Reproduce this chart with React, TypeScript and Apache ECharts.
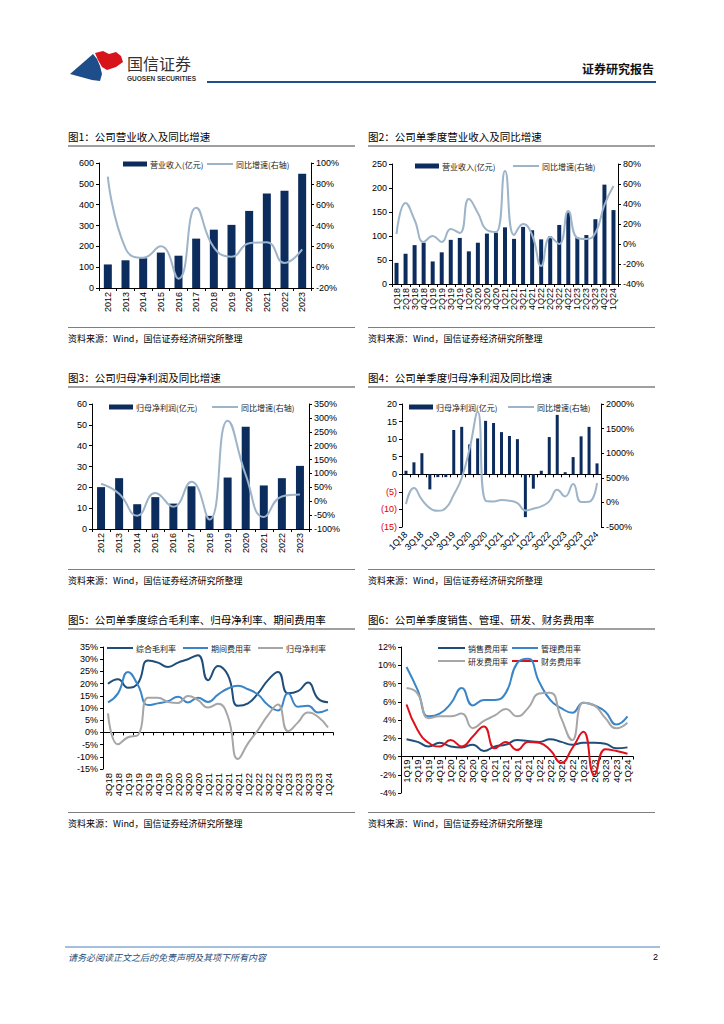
import React, { useEffect, useRef } from 'react';
import * as echarts from 'echarts';

// ---------- data ----------
const years = ['2012', '2013', '2014', '2015', '2016', '2017', '2018', '2019', '2020', '2021', '2022', '2023'];
const revenue = [113, 133, 143, 170, 155, 237, 280, 303, 370, 454, 467, 548];
const revenueYoY = [87, 18, 9, 20, -11, 57, 19, 10, 23, 24, 4, 17];

const quarters18 = ['1Q18', '2Q18', '3Q18', '4Q18', '1Q19', '2Q19', '3Q19', '4Q19', '1Q20', '2Q20', '3Q20', '4Q20', '1Q21', '2Q21', '3Q21', '4Q21', '1Q22', '2Q22', '3Q22', '4Q22', '1Q23', '2Q23', '3Q23', '4Q23', '1Q24'];
const qRevenue = [44, 63, 81, 86, 47, 66, 92, 96, 68, 86, 105, 107, 118, 94, 119, 112, 93, 99, 123, 149, 97, 102, 135, 207, 154];
const qRevenueYoY = [10, 41, 24, 2, 8, 2, 15, 11, 45, 31, 14, 12, 73, 9, 20, 9, -22, 7, 0, 33, 6, 5, 11, 39, 58];

const netProfit = [20.1, 24.4, 11.9, 15.3, 12.2, 20.5, 6.3, 24.7, 49.1, 20.9, 24.4, 30.3];
const netProfitYoY = [63, 27, -52, 30, -20, 70, -66, 290, 95, -57, 17, 24];

const qNetProfit = [1.0, 3.4, 6.0, -4.3, -0.8, -0.8, 12.6, 13.5, 8.5, 10.2, 15.2, 14.6, 12.0, 10.9, 10.0, -12.2, -4.1, 1.0, 10.6, 16.9, 0.6, 4.9, 10.8, 13.5, 3.1];
const qNetProfitYoY = [-34, 291, 54, -115, -169, -115, 156, 495, 1100, 1840, 34, 20, 47, 34, -14, -163, -129, -81, 20, 257, 122, 373, 10, 15, 393];

const quarters5 = ['3Q18', '4Q18', '1Q19', '2Q19', '3Q19', '4Q19', '1Q20', '2Q20', '3Q20', '4Q20', '1Q21', '2Q21', '3Q21', '4Q21', '1Q22', '2Q22', '3Q22', '4Q22', '1Q23', '2Q23', '3Q23', '4Q23', '1Q24'];
const grossMargin = [19.9, 21.8, 18.3, 20.2, 29.5, 28.6, 26.8, 28.6, 30.0, 31.6, 21.4, 27.2, 23.4, 10.9, 11.9, 16.0, 21.4, 24.8, 16.0, 16.9, 20.4, 13.9, 12.4];
const expenseRatio = [12.3, 16.0, 24.8, 19.3, 11.2, 11.9, 12.8, 14.6, 12.3, 14.2, 12.5, 15.5, 18.0, 19.1, 17.7, 15.5, 11.2, 9.0, 16.0, 10.5, 10.9, 8.2, 9.3];
const netMargin = [7.8, -4.9, -2.0, -1.1, 14.2, 14.2, 12.5, 12.1, 14.9, 13.2, 10.2, 11.7, 6.4, -10.9, -4.5, 1.0, 7.1, 11.4, 0.5, 4.1, 8.2, 6.4, 2.0];

const quarters6 = ['1Q19', '2Q19', '3Q19', '4Q19', '1Q20', '2Q20', '3Q20', '4Q20', '1Q21', '2Q21', '3Q21', '4Q21', '1Q22', '2Q22', '3Q22', '4Q22', '1Q23', '2Q23', '3Q23', '4Q23', '1Q24'];
const sellingRatio = [1.9, 1.6, 1.1, 1.5, 1.1, 1.0, 1.3, 0.6, 1.1, 1.3, 1.8, 1.7, 1.6, 1.9, 1.6, 1.3, 1.5, 1.5, 1.4, 0.9, 1.0];
const adminRatio = [9.8, 7.3, 4.4, 4.7, 5.8, 7.5, 5.6, 6.2, 6.2, 7.0, 10.2, 10.7, 8.2, 6.2, 5.3, 4.8, 5.9, 5.6, 4.9, 3.5, 4.4];
const rdRatio = [7.5, 6.9, 4.2, 4.4, 4.4, 4.7, 3.1, 3.9, 4.5, 5.2, 4.4, 5.3, 6.9, 7.0, 4.2, 1.8, 5.9, 5.6, 4.2, 3.1, 3.7];
const financeRatio = [5.7, 2.9, 1.5, 1.1, 1.8, 1.1, 2.2, 3.3, 0.9, 1.6, 0.7, 1.6, 1.5, 0.7, -0.7, 0.9, 2.7, -2.0, 0.8, 0.6, 0.3];

// ---------- styles ----------
const CJK = '"Noto Sans CJK SC", "Noto Sans", sans-serif';
const NUM = '"Liberation Sans", Arial, sans-serif';
const NAVY = '#0C2C5E';
const LIGHT = '#9DB4C9';
const DARKBLUE = '#1F4E79';
const MIDBLUE = '#3A85C8';
const GRAY = '#A6A6A6';
const RED = '#E0101B';

const axisLine = { show: true, onZero: false, lineStyle: { color: '#000', width: 1 } };
const axisTick = { show: true, length: 3, lineStyle: { color: '#000' } };
const lbl = (extra: any = {}) => ({ color: '#000', fontSize: 9, fontFamily: NUM, ...extra });
const pctFmt = (v: number) => `${v}%`;

function valueAxis(grid: number, min: number, max: number, interval: number, opts: any = {}) {
  return {
    type: 'value', gridIndex: grid, min, max, interval,
    axisLine, axisTick, splitLine: { show: false },
    ...opts,
    axisLabel: lbl({ margin: 5, ...(opts.axisLabel || {}) }),
  };
}

function catAxis(grid: number, data: string[], opts: any = {}) {
  return {
    type: 'category', gridIndex: grid, data,
    position: 'bottom',
    offset: opts.offset || 0,
    axisLine: { ...axisLine, ...(opts.axisLine || {}) },
    axisTick: { ...axisTick, ...(opts.axisTick || {}) },
    axisLabel: lbl({ rotate: 90, interval: 0, margin: 4, ...(opts.axisLabel || {}) }),
  };
}

function barS(name: string, x: number, y: number, data: number[], w: number) {
  return { type: 'bar', name, xAxisIndex: x, yAxisIndex: y, data, barWidth: w, itemStyle: { color: NAVY } };
}
function lineS(name: string, x: number, y: number, data: number[], color: string, width = 2) {
  return { type: 'line', name, xAxisIndex: x, yAxisIndex: y, data, smooth: 0.5, symbol: 'none', lineStyle: { color, width }, itemStyle: { color } };
}

// ---------- graphic helpers ----------
const txt = (x: number, y: number, text: string, size: number, extra: any = {}) => ({
  type: 'text', x, y, silent: true,
  style: { text, fontSize: size, fontFamily: CJK, fill: '#000', verticalAlign: 'middle', align: 'left', ...extra },
});
const hline = (x1: number, x2: number, y: number, stroke: string, lw = 1) => ({
  type: 'line', silent: true, shape: { x1, y1: y, x2, y2: y }, style: { stroke, lineWidth: lw },
});
const legRect = (x: number, y: number, label: string) => [
  { type: 'rect', silent: true, shape: { x, y: y - 2.5, width: 24, height: 5 }, style: { fill: NAVY } },
  txt(x + 27, y, label, 8, { fill: '#222' }),
];
const legLine = (x: number, y: number, label: string, color: string, len = 26) => [
  hline(x, x + len, y, color, 2),
  txt(x + len + 3, y, label, 8, { fill: '#222' }),
];

function panel(x1: number, x2: number, titleY: number, underY: number, srcLineY: number, title: string) {
  return [
    txt(x1, titleY, title, 10.5),
    hline(x1, x2, underY, '#7F7F7F', 1.5),
    hline(x1, x2, srcLineY, '#7F7F7F', 1),
    txt(x1, srcLineY + 11, '资料来源：Wind，国信证券经济研究所整理', 9),
  ];
}

const graphics: any[] = [
  // header
  { type: 'polygon', silent: true, shape: { points: [[70, 74], [93, 54], [97, 59], [100, 66], [102, 74], [100, 81], [92, 80]] }, style: { fill: '#1D4E89' } },
  { type: 'polygon', silent: true, shape: { points: [[95, 53], [103, 51], [109, 54], [116, 52], [121, 56], [123, 62], [116, 67], [107, 70], [102, 67], [98, 60]] }, style: { fill: '#D7141A' } },
  txt(127, 63, '国信证券', 16, { fill: '#333' }),
  txt(127, 78.5, 'GUOSEN SECURITIES', 6.5, { fill: '#333', fontFamily: NUM, fontWeight: 'bold' }),
  hline(207, 656, 82, '#1F4E8C', 2),
  txt(654, 68, '证券研究报告', 12, { align: 'right', fontWeight: 'bold', fill: '#111' }),
  // panels
  ...panel(68, 355, 136, 146, 327.5, '图1：公司营业收入及同比增速'),
  ...panel(368, 655, 136, 146, 327.5, '图2：公司单季度营业收入及同比增速'),
  ...panel(68, 355, 377, 387, 569.5, '图3：公司归母净利润及同比增速'),
  ...panel(368, 655, 377, 387, 569.5, '图4：公司单季度归母净利润及同比增速'),
  ...panel(68, 355, 619, 629, 812.5, '图5：公司单季度综合毛利率、归母净利率、期间费用率'),
  ...panel(368, 655, 619, 629, 812.5, '图6：公司单季度销售、管理、研发、财务费用率'),
  // legends
  ...legRect(123, 164, '营业收入(亿元)'),
  ...legLine(207, 164, '同比增速(右轴)', LIGHT),
  ...legRect(415, 166, '营业收入(亿元)'),
  ...legLine(513, 166, '同比增速(右轴)', LIGHT),
  ...legRect(109, 407, '归母净利润(亿元)'),
  ...legLine(212, 407, '同比增速(右轴)', LIGHT),
  ...legRect(409, 407, '归母净利润(亿元)'),
  ...legLine(508, 407, '同比增速(右轴)', LIGHT),
  ...legLine(107, 648, '综合毛利率', DARKBLUE),
  ...legLine(183, 648, '期间费用率', MIDBLUE, 25),
  ...legLine(258, 648, '归母净利率', GRAY, 25),
  ...legLine(438, 648, '销售费用率', DARKBLUE, 27),
  ...legLine(512, 648, '管理费用率', MIDBLUE, 26),
  ...legLine(438, 661, '研发费用率', GRAY, 27),
  ...legLine(512, 661, '财务费用率', RED, 26),
  // footer
  hline(65, 660, 947, '#4A7EBB', 1),
  txt(68, 957, '请务必阅读正文之后的免责声明及其项下所有内容', 9, { fill: '#1F4E79', fontStyle: 'italic' }),
  txt(658, 957, '2', 9, { align: 'right', fontFamily: NUM }),
];

// grid geometry
const G4 = { left: 402, top: 404, width: 199, height: 123 };
const G5 = { left: 103, top: 647, width: 230, height: 122 };
const G6 = { left: 401, top: 647, width: 232, height: 146 };
// offsets that lift a bottom axis line to the zero value of its value axis
const zero4 = -(G4.height * 15) / 35;
const zero5 = -(G5.height * 15) / 50;
const zero6 = -(G6.height * 4) / 16;

const option: any = {
  animation: false,
  backgroundColor: '#fff',
  grid: [
    { left: 99, top: 163, width: 212, height: 125 },
    { left: 392, top: 164, width: 226, height: 120 },
    { left: 92, top: 404, width: 217, height: 125 },
    G4,
    G5,
    G6,
  ],
  xAxis: [
    catAxis(0, years),
    catAxis(1, quarters18),
    catAxis(2, years),
    // chart 4: labels at bottom + zero line
    catAxis(3, quarters18, { axisLine: { show: false }, axisTick: { show: false }, axisLabel: { rotate: 45, interval: 1, margin: 6 } }),
    catAxis(3, quarters18, { offset: zero4, axisLabel: { show: false } }),
    // chart 5
    catAxis(4, quarters5, { axisLine: { show: false }, axisTick: { show: false }, axisLabel: { fontSize: 9.5, margin: 4 } }),
    catAxis(4, quarters5, { offset: zero5, axisLabel: { show: false } }),
    // chart 6 (labels right under the zero line)
    catAxis(5, quarters6, { offset: zero6, axisLabel: { fontSize: 9.5, margin: 3 } }),
  ],
  yAxis: [
    valueAxis(0, 0, 600, 100),
    valueAxis(0, -20, 100, 20, { position: 'right', axisLabel: { formatter: pctFmt } }),
    valueAxis(1, 0, 250, 50),
    valueAxis(1, -40, 80, 20, { position: 'right', axisLabel: { formatter: pctFmt } }),
    valueAxis(2, 0, 60, 10),
    valueAxis(2, -100, 350, 50, { position: 'right', axisLabel: { formatter: pctFmt } }),
    valueAxis(3, -15, 20, 5, {
      axisLabel: {
        formatter: (v: number) => (v < 0 ? `{neg|(${Math.abs(v)})}` : String(v)),
        rich: { neg: { color: '#E00000', fontSize: 9, fontFamily: NUM } },
      },
    }),
    valueAxis(3, -500, 2000, 500, { position: 'right', axisLabel: { formatter: pctFmt } }),
    valueAxis(4, -15, 35, 5, { axisLabel: { formatter: pctFmt } }),
    valueAxis(5, -4, 12, 2, { axisLabel: { formatter: pctFmt } }),
  ],
  series: [
    barS('营业收入(亿元)', 0, 0, revenue, 8),
    lineS('同比增速(右轴)', 0, 1, revenueYoY, LIGHT),
    barS('单季营业收入(亿元)', 1, 2, qRevenue, 4),
    lineS('单季同比增速(右轴)', 1, 3, qRevenueYoY, LIGHT),
    barS('归母净利润(亿元)', 2, 4, netProfit, 8),
    lineS('归母净利润同比增速(右轴)', 2, 5, netProfitYoY, LIGHT),
    barS('单季归母净利润(亿元)', 3, 6, qNetProfit, 3),
    lineS('单季归母净利润同比增速(右轴)', 3, 7, qNetProfitYoY, LIGHT),
    lineS('综合毛利率', 5, 8, grossMargin, DARKBLUE),
    lineS('期间费用率', 5, 8, expenseRatio, MIDBLUE),
    lineS('归母净利率', 5, 8, netMargin, GRAY),
    lineS('销售费用率', 7, 9, sellingRatio, DARKBLUE),
    lineS('管理费用率', 7, 9, adminRatio, MIDBLUE),
    lineS('研发费用率', 7, 9, rdRatio, GRAY),
    lineS('财务费用率', 7, 9, financeRatio, RED),
  ],
  graphic: graphics,
};

export default function App() {
  const ref = useRef<HTMLDivElement>(null);
  useEffect(() => {
    if (!ref.current) return;
    const chart = echarts.init(ref.current, null, { renderer: 'svg' });
    chart.setOption(option);
    return () => chart.dispose();
  }, []);
  return (
    <div
      ref={ref}
      style={{ position: 'absolute', left: 0, top: 0, width: 724, height: 1024, background: '#fff' }}
    />
  );
}
